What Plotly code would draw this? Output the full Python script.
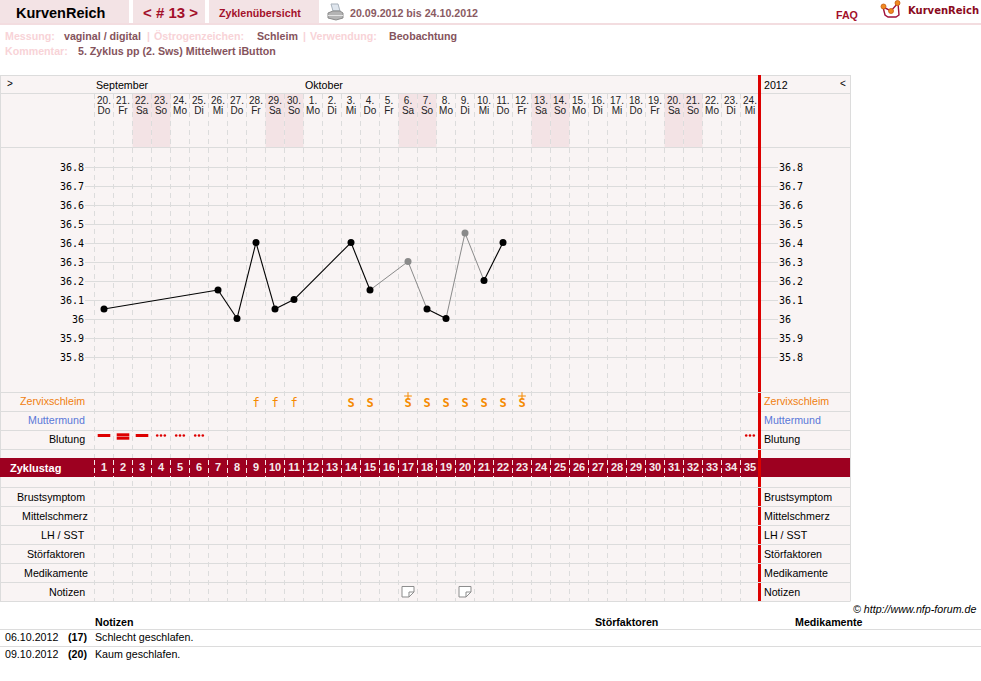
import plotly.graph_objects as go

# ---------- data ----------
cycle_days = list(range(1, 36))
dates = ["20.", "21.", "22.", "23.", "24.", "25.", "26.", "27.", "28.", "29.", "30.",
         "1.", "2.", "3.", "4.", "5.", "6.", "7.", "8.", "9.", "10.", "11.", "12.", "13.",
         "14.", "15.", "16.", "17.", "18.", "19.", "20.", "21.", "22.", "23.", "24."]
weekdays = ["Do", "Fr", "Sa", "So", "Mo", "Di", "Mi", "Do", "Fr", "Sa", "So",
            "Mo", "Di", "Mi", "Do", "Fr", "Sa", "So", "Mo", "Di", "Mi", "Do", "Fr", "Sa",
            "So", "Mo", "Di", "Mi", "Do", "Fr", "Sa", "So", "Mo", "Di", "Mi"]
temp_days = [1, 7, 8, 9, 10, 11, 14, 15, 17, 18, 19, 20, 21, 22]
temps = [36.055, 36.155, 36.005, 36.405, 36.055, 36.105, 36.405, 36.155, 36.305, 36.055, 36.005, 36.455, 36.205, 36.405]
disturbed_days = [17, 20]
temp_ticks = [35.8, 35.9, 36.0, 36.1, 36.2, 36.3, 36.4, 36.5, 36.6, 36.7, 36.8]
temp_tick_labels = ["35.8", "35.9", "36", "36.1", "36.2", "36.3", "36.4", "36.5", "36.6", "36.7", "36.8"]
mucus_f_days = [9, 10, 11]
mucus_s_days = [14, 15, 17, 18, 19, 20, 21, 22, 23]
mucus_plus_days = [17, 23]
bleed_single_days = [1, 3]
bleed_double_days = [2]
bleed_light_days = [4, 5, 6, 35]
note_days = [17, 20]
upper_rows = ["Zervixschleim", "Muttermund", "Blutung"]
lower_rows = ["Brustsymptom", "Mittelschmerz", "LH / SST", "Störfaktoren", "Medikamente", "Notizen"]

# ---------- layout constants ----------
W, H = 981, 681
GRID = "#dcdcdc"
PANEL = "#f9f4f4"
WEEKEND = "#f3e3e5"
DARK = "#9d0020"
RED = "#dd0000"
SANS = "Liberation Sans"
BASE = 10.67
X0, XSTEP = 85, 19


def px(x):
    return x / W


def py(y):
    return 1 - y / H


shapes = []
annotations = []


def rect(x0, y0, x1, y1, fill, layer="below"):
    shapes.append(dict(type="rect", xref="paper", yref="paper", x0=px(x0), x1=px(x1),
                       y0=py(y0), y1=py(y1), fillcolor=fill, line_width=0, layer=layer))


def hline(y, x0, x1, color=GRID, width=1, layer="below"):
    shapes.append(dict(type="line", xref="paper", yref="paper", x0=px(x0), x1=px(x1),
                       y0=py(y), y1=py(y), line=dict(color=color, width=width), layer=layer))


def vline(x, y0, y1, color=GRID, width=1, layer="below", dash=None):
    shapes.append(dict(type="line", xref="paper", yref="paper", x0=px(x), x1=px(x),
                       y0=py(y0), y1=py(y1), line=dict(color=color, width=width, dash=dash), layer=layer))


def path(points, fill=None, color=None, width=1, close=True, layer="above"):
    d = "M " + " L ".join(f"{px(a):.5f},{py(b):.5f}" for a, b in points) + (" Z" if close else "")
    shapes.append(dict(type="path", xref="paper", yref="paper", path=d,
                       fillcolor=fill or "rgba(0,0,0,0)",
                       line=dict(color=color or "rgba(0,0,0,0)", width=width if color else 0), layer=layer))


def dot(cx, cy, r, fill, color):
    shapes.append(dict(type="circle", xref="paper", yref="paper", x0=px(cx - r), x1=px(cx + r),
                       y0=py(cy - r), y1=py(cy + r), fillcolor=fill, line=dict(color=color, width=0.8), layer="above"))


def txt(x, y, s, size=BASE, color="#000000", bold=False, anchor="left", family=SANS, italic=False):
    if bold:
        s = f"<b>{s}</b>"
    if italic:
        s = f"<i>{s}</i>"
    x = x - 1 if anchor == "left" else x + 0.5
    annotations.append(dict(xref="paper", yref="paper", x=px(x), y=py(y), text=s, showarrow=False,
                            xanchor=anchor, yanchor="middle", align=anchor, borderpad=0,
                            font=dict(size=size, color=color, family=family)))


# ---------- page header ----------
rect(0, 0, 129, 23, WEEKEND)
rect(133, 0, 205, 23, WEEKEND)
rect(209, 0, 319, 23, WEEKEND)
rect(0, 23, W, 25, "#f3dde0")
txt(16, 13, "KurvenReich", 14.5, "#000000", True)
txt(143, 12.5, "&lt; # 13 &gt;", 15, "#a3102a", True)
txt(219, 12.5, "Zyklenübersicht", BASE, "#a3102a", True)
txt(350, 12.5, "20.09.2012 bis 24.10.2012", BASE, "#8a5a62", True)
txt(836, 14.5, "FAQ", BASE, "#a3102a", True)
txt(908, 10.5, "KurvenReich", 10, "#8a0a20", True, family="DejaVu Sans")

PALE = "#f8d3d7"
MUTED = "#85535c"
for x, y, s, c in [(5, 36, "Messung:", PALE), (64, 36, "vaginal / digital", MUTED), (147, 36, "|", PALE),
                   (154, 36, "Östrogenzeichen:", PALE), (257, 36, "Schleim", MUTED), (303, 36, "|", PALE),
                   (310, 36, "Verwendung:", PALE), (389, 36, "Beobachtung", MUTED),
                   (5, 51, "Kommentar:", PALE), (78, 51, "5. Zyklus pp (2. Sws) Mittelwert iButton", MUTED)]:
    txt(x, y, s, BASE, c, True)

# printer icon
path([(331, 4), (338, 4), (340, 11), (333, 11)], fill="#dfe6ee", color="#a8b2bc")
path([(328, 13), (333, 11), (340, 11), (343, 13), (343, 18), (336, 20), (328, 18)], fill="#b4b4b4", color="#8a8a8a")
path([(328, 15), (343, 15), (343, 16), (328, 16)], fill="#e4e4e4")

# logo icon
path([(883, 7), (885, 15), (888, 17), (896, 17), (899, 15), (898, 3)], color="#a0103a", width=1.4, close=False)
path([(883, 7), (891, 11), (898, 3)], color="#a0103a", width=1.4, close=False)
dot(883.5, 6.5, 2.5, "#f08a20", "#c85a10")
dot(891, 11, 2.5, "#f08a20", "#c85a10")
dot(897.5, 3, 2.5, "#f08a20", "#c85a10")

# ---------- chart panel ----------
rect(0, 75, 850, 601, PANEL)
for d, wd in zip(cycle_days, weekdays):
    if wd in ("Sa", "So"):
        shapes.append(dict(type="rect", xref="x", yref="paper", x0=d - 0.5, x1=d + 0.5,
                           y0=py(94), y1=py(147), fillcolor=WEEKEND, line_width=0, layer="below"))
for d in cycle_days:
    shapes.append(dict(type="line", xref="x", yref="paper", x0=d - 0.5, x1=d - 0.5, y0=py(94), y1=py(601),
                       line=dict(color=GRID, width=1, dash="5px,4px"), layer="below"))
for y in (75.5, 93.5, 147.5, 392.5, 411.5, 430.5, 449.5, 487.5, 506.5, 525.5, 544.5, 563.5, 582.5, 601.5):
    hline(y, 0, 850)
vline(0.5, 75, 601.5)
vline(850.5, 75, 601.5)
rect(0, 458, 850, 477, DARK)
for d in cycle_days:
    shapes.append(dict(type="line", xref="x", yref="paper", x0=d - 0.5, x1=d - 0.5, y0=py(460), y1=py(477),
                       line=dict(color="#f6e6e8", width=1, dash="5px,3px"), layer="below"))

# red "today" bar with breaks at the row lines
breaks = [75, 392, 449, 487, 506, 525, 544, 563, 582, 601]
for a, b in zip(breaks[:-1], breaks[1:]):
    vline(759.5, a + (1 if a != 75 else 0), b, RED, 3, layer="above")

txt(7, 83, "&gt;", 10)
txt(840, 83, "&lt;", 10)
txt(96, 85, "September", BASE)
txt(305, 85, "Oktober", BASE)
txt(764, 85.5, "2012", BASE)

for i, lab in enumerate(upper_rows):
    col = {"Zervixschleim": "#f08010", "Muttermund": "#5a78d8"}.get(lab, "#000000")
    y = 401 + 19 * i
    txt(85.5, y, lab, BASE, col, anchor="right")
    txt(764, y, lab, BASE, col)
txt(10, 468, "Zyklustag", 11, "#ffffff", True)
for i, lab in enumerate(lower_rows):
    y = 496.5 + 19 * i
    txt(88.5 if lab in ("Mittelschmerz", "Medikamente") else 85.5, y, lab, BASE, anchor="right")
    txt(764, y, lab, BASE)

# note icons, positioned from the day axis
for d in note_days:
    cx = X0 + XSTEP * d
    path([(cx - 6, 586.5), (cx + 6, 586.5), (cx + 6, 592), (cx + 1, 597), (cx - 6, 597)],
         fill="#ffffff", color="#8c8c8c")
    path([(cx + 1, 597), (cx + 1, 592), (cx + 6, 592)], color="#8c8c8c", close=False)

# ---------- notes table ----------
txt(976, 609, "© http://www.nfp-forum.de", BASE, italic=True, anchor="right")
txt(95, 622, "Notizen", BASE, bold=True)
txt(595, 622, "Störfaktoren", BASE, bold=True)
txt(795, 622, "Medikamente", BASE, bold=True)
hline(629.5, 0, W)
hline(646.5, 0, W)
txt(5, 637, "06.10.2012", BASE)
txt(68, 637, "(17)", BASE, bold=True)
txt(95, 637, "Schlecht geschlafen.", BASE)
txt(5, 654, "09.10.2012", BASE)
txt(68, 654, "(20)", BASE, bold=True)
txt(95, 654, "Kaum geschlafen.", BASE)

# ---------- traces ----------
fig = go.Figure()

# temperature curve: grey where a neighbouring measurement is disturbed
for is_grey, color, lw in [(False, "#000000", 1.1), (True, "#8a8a8a", 1.0)]:
    xs, ys = [], []
    for i in range(len(temp_days) - 1):
        grey = temp_days[i] in disturbed_days or temp_days[i + 1] in disturbed_days
        if grey == is_grey:
            xs += [temp_days[i], temp_days[i + 1], None]
            ys += [temps[i], temps[i + 1], None]
    fig.add_trace(go.Scatter(x=xs, y=ys, mode="lines", line=dict(color=color, width=lw), hoverinfo="skip"))
fig.add_trace(go.Scatter(x=temp_days, y=temps, mode="markers", hoverinfo="skip",
                         marker=dict(size=7, color=["#8a8a8a" if d in disturbed_days else "#000000" for d in temp_days])))
# right-hand copy of the scale
fig.add_trace(go.Scatter(x=temp_days, y=temps, yaxis="y3", mode="markers", opacity=0, hoverinfo="skip"))

# row marks, on a row axis that spans the page
def row_text(x, y_value, text, size, color, family=SANS):
    fig.add_trace(go.Scatter(x=x, y=[y_value] * len(x), text=text, yaxis="y2", mode="text", hoverinfo="skip",
                             textposition="middle center", cliponaxis=False,
                             textfont=dict(size=size, color=color, family=family)))


row_text(cycle_days, 101, dates, 10, "#222222")
row_text(cycle_days, 111, weekdays, 10, "#222222")
row_text(cycle_days, 468, [f"<b>{d}</b>" for d in cycle_days], 11, "#f6eaec")
row_text(mucus_f_days, 403.5, ["f"] * len(mucus_f_days), 12, "#f58a00", "DejaVu Sans Mono")
row_text(mucus_s_days, 404, ["<b>S</b>"] * len(mucus_s_days), 12, "#f58a00", "DejaVu Sans Mono")
fig.add_trace(go.Scatter(x=mucus_plus_days, y=[396] * len(mucus_plus_days), yaxis="y2", mode="markers",
                         hoverinfo="skip", marker=dict(symbol="cross-thin", size=5.5, line=dict(color="#f58a00", width=1))))

for days, offset in [(bleed_single_days, 435.5), (bleed_double_days, 434.8), (bleed_double_days, 438.2)]:
    fig.add_trace(go.Scatter(x=days, y=[offset] * len(days), yaxis="y2", mode="markers", hoverinfo="skip",
                             marker=dict(symbol="line-ew", size=9, line=dict(color="#dd0000", width=3))))
for shift in (-0.2, 0, 0.2):
    fig.add_trace(go.Scatter(x=[d + shift for d in bleed_light_days], y=[435.5] * len(bleed_light_days),
                             yaxis="y2", mode="markers", hoverinfo="skip",
                             marker=dict(symbol="circle", size=2.6, color="#dd0000")))

temp_range = [35.8 - (376 - 357.5) / 190, 36.8 + (167.5 - 148) / 190]
temp_domain = [1 - 376 / H, 1 - 148 / H]
tick_font = dict(family="DejaVu Sans Mono", size=10, color="#000000")

fig.update_layout(
    width=W, height=H, margin=dict(l=0, r=0, t=0, b=0), showlegend=False,
    paper_bgcolor="#ffffff", plot_bgcolor="rgba(0,0,0,0)",
    font=dict(family=SANS, color="#000000"),
    shapes=shapes, annotations=annotations,
    xaxis=dict(domain=[px(X0), px(778)], range=[0, (778 - X0) / XSTEP], visible=False, anchor="y", fixedrange=True),
    yaxis=dict(domain=temp_domain, range=temp_range, tickvals=temp_ticks, ticktext=temp_tick_labels,
               showgrid=True, gridcolor=GRID, gridwidth=1, zeroline=False, showline=False, ticks="",
               tickfont=tick_font, anchor="x", side="left", fixedrange=True),
    yaxis2=dict(domain=[0, 1], range=[H, 0], visible=False, anchor="x", fixedrange=True),
    yaxis3=dict(range=temp_range, overlaying="y", side="right", anchor="x", tickvals=temp_ticks,
                ticktext=temp_tick_labels, showgrid=False, zeroline=False, showline=False, ticks="",
                tickfont=tick_font, fixedrange=True),
)

fig.write_html("out.html", config=dict(displayModeBar=False, staticPlot=True),
               post_script="document.body.style.margin='0';document.body.style.overflow='hidden';")
